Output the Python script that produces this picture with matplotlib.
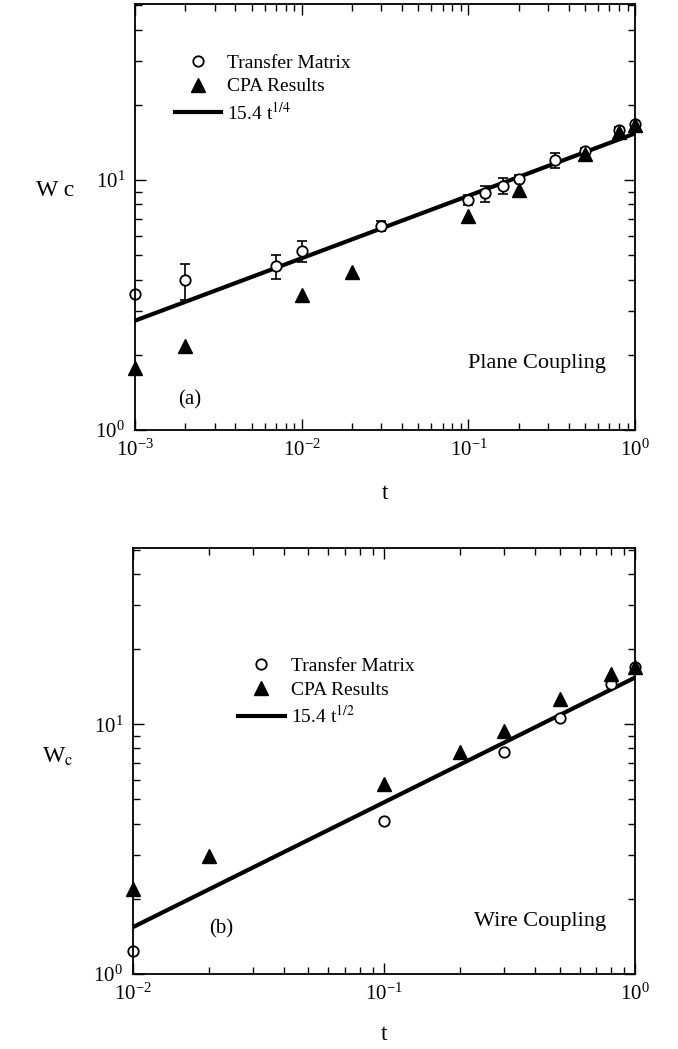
#Wc vs t, plane and wire coupling

import numpy as np
import matplotlib
matplotlib.use("Agg")
import matplotlib.pyplot as plt

plt.rcParams['font.family'] = ['Liberation Serif', 'DejaVu Serif']
plt.rcParams['mathtext.fontset'] = 'stix'
plt.rcParams['axes.unicode_minus'] = False

# (a) plane coupling
tmA_t = [1e-3, 2e-3, 7e-3, 1e-2, 3e-2, 0.1, 0.125, 0.16, 0.2, 0.33, 0.5, 0.8, 1.0]
tmA_W = [3.49, 3.98, 4.53, 5.21, 6.55, 8.32, 8.85, 9.49, 10.15, 12.0, 13.1, 15.9, 16.8]
tmA_err = [0, 0.66, 0.5, 0.5, 0.3, 0.4, 0.65, 0.7, 0.3, 0.8, 0.3, 0.4, 0]
cpaA_t = [1e-3, 2e-3, 1e-2, 2e-2, 0.1, 0.2, 0.5, 0.8, 1.0]
cpaA_W = [1.77, 2.17, 3.47, 4.3, 7.18, 9.12, 12.7, 15.6, 16.7]
fitA_t = [1e-3, 1.0]
fitA_W = [2.74, 15.4]

# (b) wire coupling
tmB_t = [0.01, 0.1, 0.3, 0.5, 0.8, 1.0]
tmB_W = [1.24, 4.09, 7.77, 10.6, 14.5, 16.9]
cpaB_t = [0.01, 0.02, 0.1, 0.2, 0.3, 0.5, 0.8, 1.0]
cpaB_W = [2.18, 2.96, 5.74, 7.74, 9.4, 12.6, 15.9, 17.0]
fitB_t = [0.01, 1.0]
fitB_W = [1.54, 15.4]

fig = plt.figure(figsize=(6.78, 10.49), dpi=100)
axA = fig.add_axes([0.199, 0.590, 0.738, 0.406])
axB = fig.add_axes([0.196, 0.0715, 0.741, 0.4065])


def style(ax):
    ax.set_xscale('log')
    ax.set_yscale('log')
    ax.tick_params(which='both', direction='in', top=True, right=True,
                   labelsize=15, width=1.0, color='black')
    ax.tick_params(which='major', length=8, pad=7)
    ax.tick_params(which='minor', length=5)
    for s in ax.spines.values():
        s.set_linewidth(1.3)


# top panel
style(axA)
l1, = axA.plot(fitA_t, fitA_W, color='black', lw=3, label=r'15.4 t$^{1/4}$')
axA.errorbar(tmA_t, tmA_W, yerr=tmA_err, fmt='none', ecolor='black',
             elinewidth=1.2, capsize=3.5, capthick=1.2)
h1, = axA.plot(tmA_t, tmA_W, 'o', mfc='white', mec='black', mew=1.3, ms=7.5,
               label='Transfer Matrix', clip_on=False)
h2, = axA.plot(cpaA_t, cpaA_W, '^', color='black', ms=10,
               label='CPA Results', clip_on=False)
axA.set_xlim(1e-3, 1)
axA.set_ylim(1, 50.6)
axA.legend(handles=[h1, h2, l1], loc='upper left', bbox_to_anchor=(0.06, 0.905),
           frameon=False, fontsize=14, handlelength=2.4, handletextpad=0.3,
           labelspacing=0.3, borderpad=0)
axA.text(0.11, 0.07, '(a)', transform=axA.transAxes, fontsize=15, ha='center', va='center')
axA.text(0.804, 0.157, 'Plane Coupling', transform=axA.transAxes, fontsize=16,
         ha='center', va='center')
axA.set_xlabel('t', fontsize=17)
axA.xaxis.set_label_coords(0.5, -0.148)
axA.xaxis.label.set_va('center')
axA.set_ylabel('W c', fontsize=17, rotation=0)
axA.yaxis.set_label_coords(-0.16, 0.563)
axA.yaxis.label.set_va('center')

# bottom panel
style(axB)
l2, = axB.plot(fitB_t, fitB_W, color='black', lw=3, label=r'15.4 t$^{1/2}$')
h3, = axB.plot(tmB_t, tmB_W, 'o', mfc='white', mec='black', mew=1.3, ms=7.5,
               label='Transfer Matrix', clip_on=False)
h4, = axB.plot(cpaB_t, cpaB_W, '^', color='black', ms=10,
               label='CPA Results', clip_on=False)
axB.set_xlim(1e-2, 1)
axB.set_ylim(1, 51)
axB.legend(handles=[h3, h4, l2], loc='upper left', bbox_to_anchor=(0.19, 0.765),
           frameon=False, fontsize=14, handlelength=2.4, handletextpad=0.3,
           labelspacing=0.3, borderpad=0)
axB.text(0.175, 0.105, '(b)', transform=axB.transAxes, fontsize=15, ha='center', va='center')
axB.text(0.811, 0.123, 'Wire Coupling', transform=axB.transAxes, fontsize=16,
         ha='center', va='center')
axB.set_xlabel('t', fontsize=17)
axB.xaxis.set_label_coords(0.5, -0.143)
axB.xaxis.label.set_va('center')
axB.set_ylabel(r'W$_{\mathrm{c}}$', fontsize=17, rotation=0)
axB.yaxis.set_label_coords(-0.15, 0.51)
axB.yaxis.label.set_va('center')

plt.savefig('out.png', dpi=100)
